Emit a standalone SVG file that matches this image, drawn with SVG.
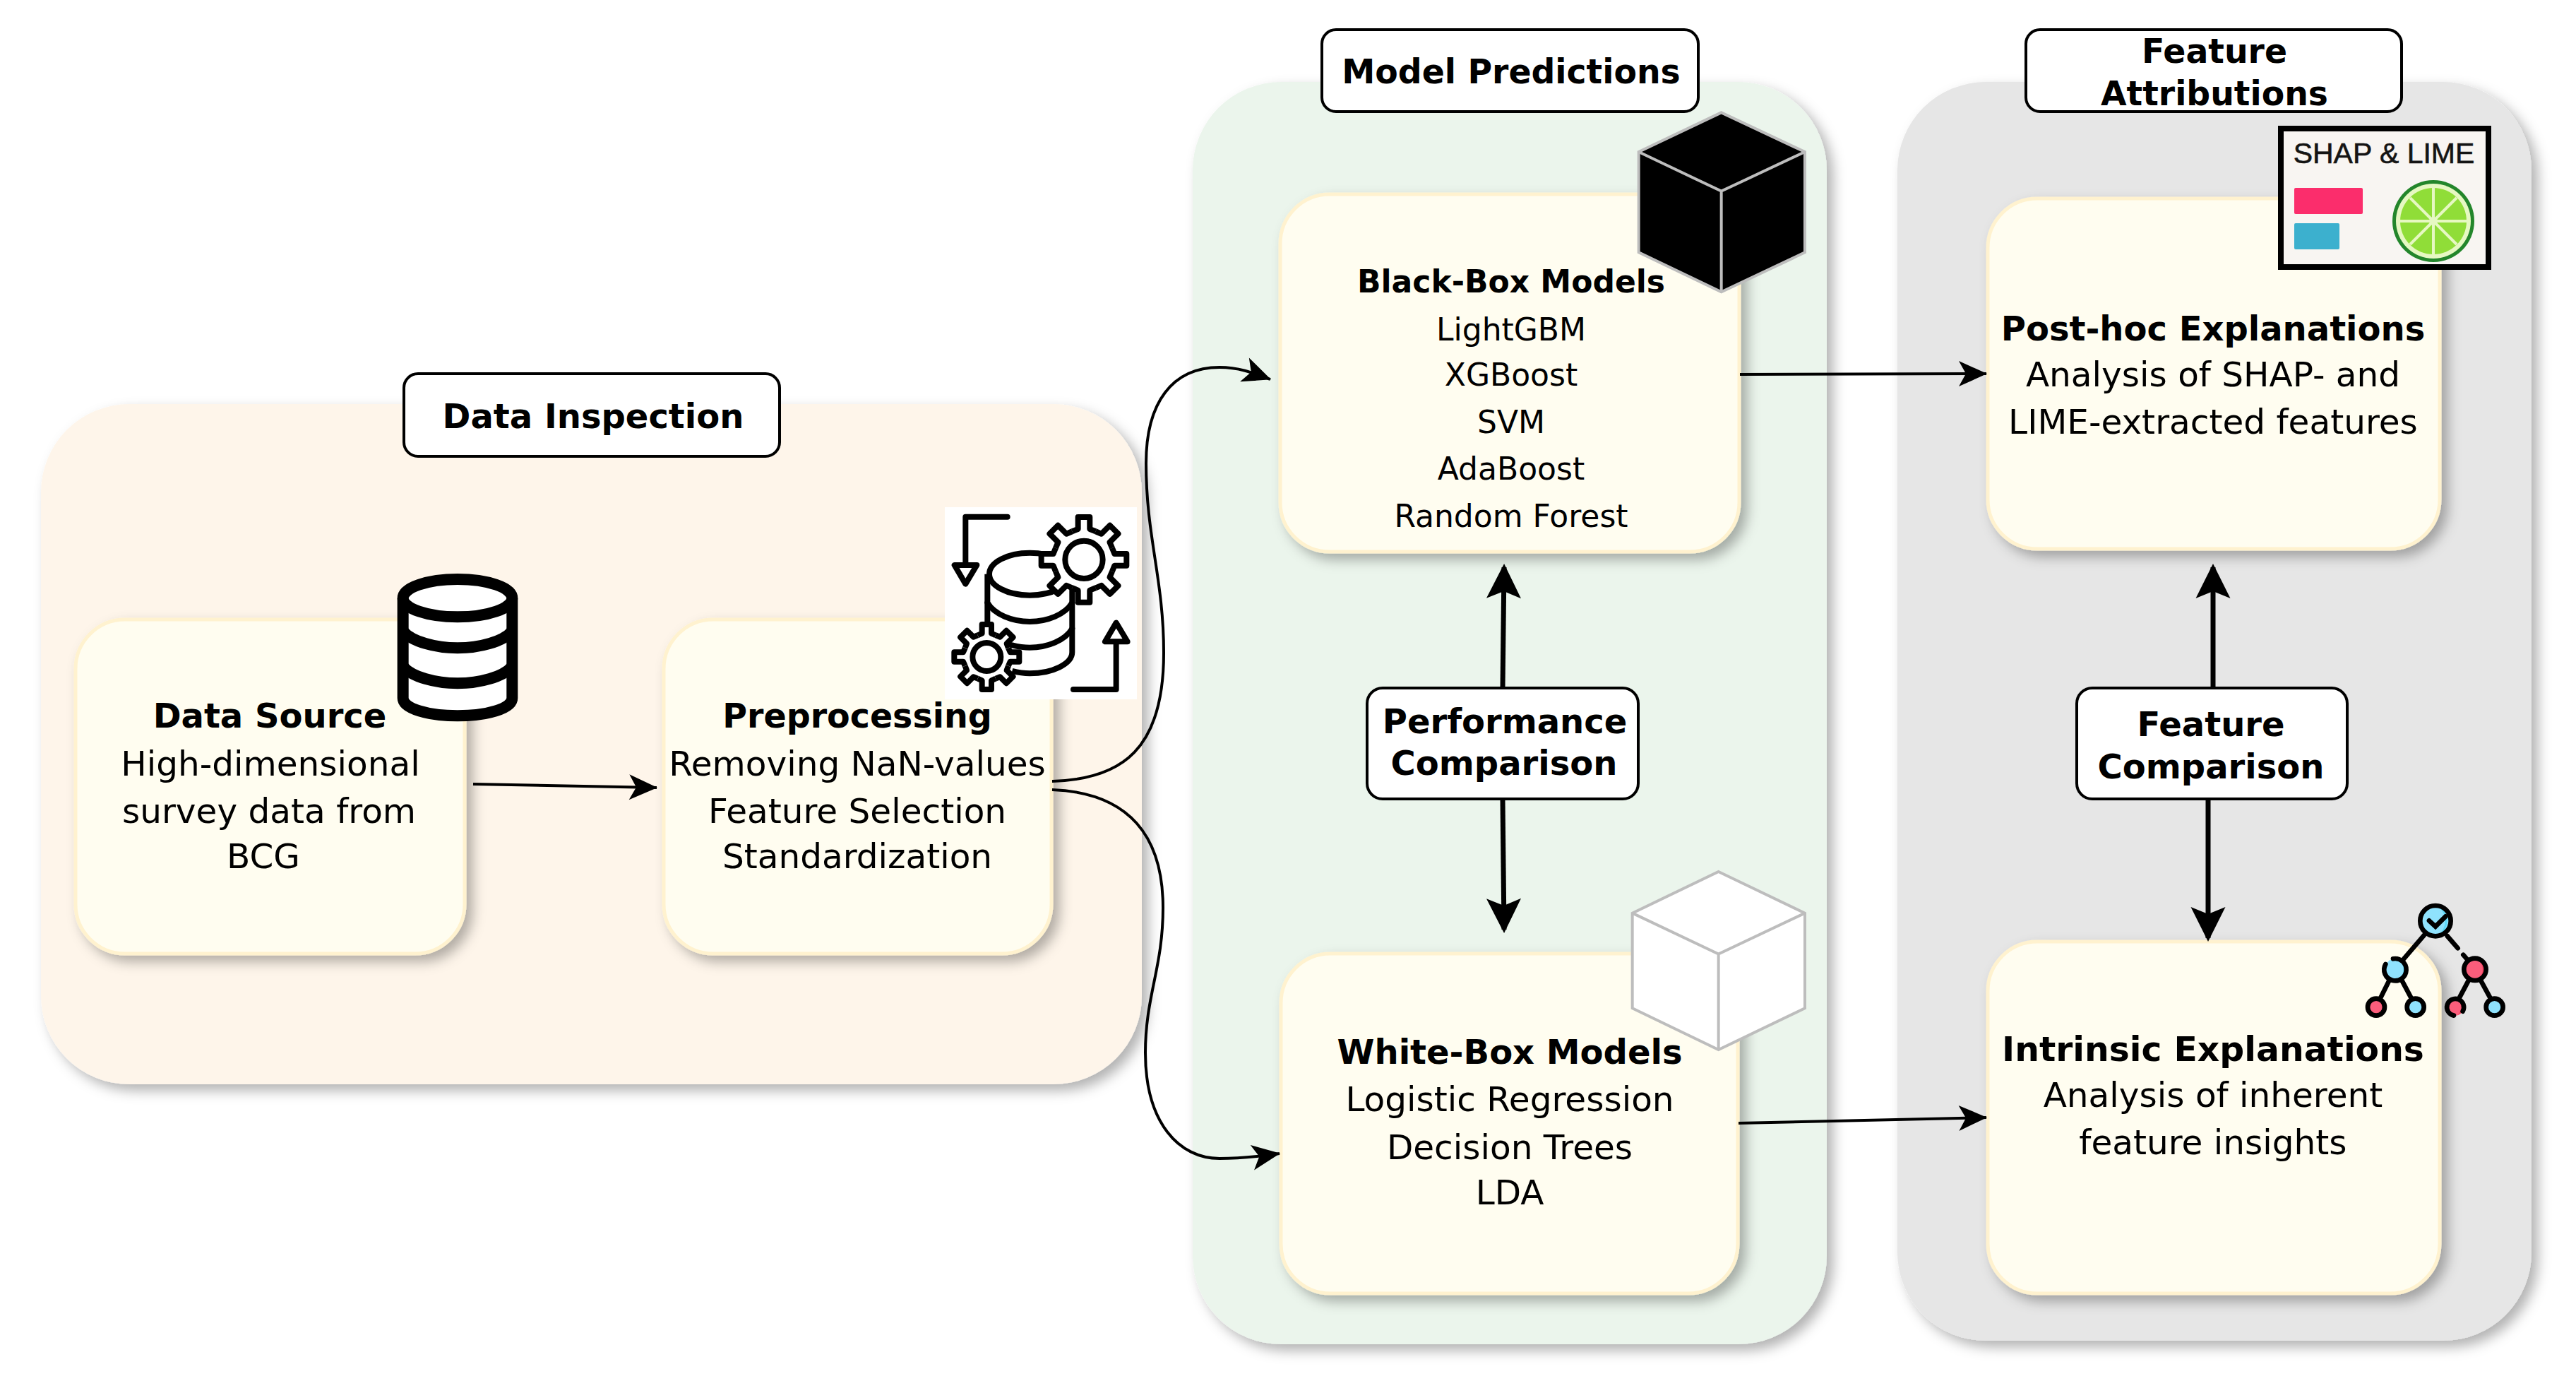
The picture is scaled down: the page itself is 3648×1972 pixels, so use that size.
<svg xmlns="http://www.w3.org/2000/svg" width="3648" height="1972" viewBox="0 0 3648 1972">
<style>
text{font-family:"DejaVu Sans",Verdana,sans-serif;text-anchor:middle;fill:#000}
.t{font-size:48.5px}.b{font-size:48px;font-weight:700}.s{font-size:44px}.sb{font-size:44px;font-weight:700}
.c{filter:url(#sh)}.n{fill:#fffdf0;stroke:#fff2cf;stroke-width:5;filter:url(#sh)}
.l{fill:#fff;stroke:#000;stroke-width:4}
.a{fill:none;stroke:#000;stroke-width:4;marker-end:url(#m)}
.h{fill:none;stroke:#000;stroke-width:7;marker-end:url(#mh)}
.i{fill:none;stroke:#000;stroke-width:24;stroke-linecap:round;stroke-linejoin:round}
.g{fill:#fff;stroke:#000;stroke-width:24;stroke-linejoin:round}
.cube{stroke:#bdbdbd;stroke-width:12;stroke-linejoin:miter}
.e{fill:none;stroke:#bdbdbd;stroke-width:12}
.tr{stroke:#000;stroke-width:20;stroke-linecap:round}
</style>
<defs>
<filter id="sh" x="-10%" y="-10%" width="125%" height="125%"><feDropShadow dx="9" dy="9" stdDeviation="9" flood-color="#000" flood-opacity=".3"/></filter>
<marker id="m" markerUnits="userSpaceOnUse" markerWidth="44" markerHeight="38" refX="39" refY="18" orient="auto" overflow="visible"><path d="M0 0L40 18L0 36L10 18Z" fill="#000"/></marker>
<marker id="mh" markerUnits="userSpaceOnUse" markerWidth="56" markerHeight="52" refX="44" refY="24.5" orient="auto" overflow="visible"><path d="M0 0L49 24.5L0 49L10 24.5Z" fill="#000"/></marker>
<path id="t1" d="M-50 -120L-25 -130L-25 -181L25 -181L25 -130L50 -120"/>
<path id="t2" d="M-38 -92L-20 -100L-20 -138L20 -138L20 -100L38 -92"/>
</defs>
<g id="container-data-inspection"><rect class="c" x="58" y="572" width="1559" height="963" rx="125" fill="#fef5ea"/></g>
<g id="container-model-predictions"><rect class="c" x="1689" y="116" width="898" height="1787" rx="125" fill="#ebf5ec"/></g>
<g id="container-feature-attributions"><rect class="c" x="2687" y="116" width="898" height="1782" rx="125" fill="#e6e6e6"/></g>

<g id="node-data-source"><rect class="n" x="107" y="877" width="551" height="473" rx="70"/>
<text class="b" x="382" y="1030">Data Source</text><text class="t" x="383" y="1098">High-dimensional</text><text class="t" x="381" y="1165">survey data from</text><text class="t" x="373" y="1229">BCG</text></g>
<g id="node-preprocessing"><rect class="n" x="940" y="877" width="549" height="473" rx="70"/>
<text class="b" x="1214" y="1030" style="font-size:47.5px">Preprocessing</text><text class="t" x="1214" y="1098">Removing NaN-values</text><text class="t" x="1214" y="1165">Feature Selection</text><text class="t" x="1214" y="1229">Standardization</text></g>
<g id="node-black-box"><rect class="n" x="1813" y="275" width="650" height="506" rx="70"/>
<text class="sb" x="2140" y="414">Black-Box Models</text><text class="s" x="2140" y="482">LightGBM</text><text class="s" x="2140" y="546">XGBoost</text><text class="s" x="2140" y="613">SVM</text><text class="s" x="2140" y="679">AdaBoost</text><text class="s" x="2140" y="746">Random Forest</text></g>
<g id="node-white-box"><rect class="n" x="1814" y="1350" width="647" height="481" rx="70"/>
<text class="b" x="2138" y="1506">White-Box Models</text><text class="t" x="2138" y="1573">Logistic Regression</text><text class="t" x="2138" y="1641">Decision Trees</text><text class="t" x="2138" y="1705">LDA</text></g>
<g id="node-post-hoc"><rect class="n" x="2815" y="281" width="640" height="496" rx="70"/>
<text class="b" x="3134" y="482">Post-hoc Explanations</text><text class="t" x="3134" y="547">Analysis of SHAP- and</text><text class="t" x="3134" y="614">LIME-extracted features</text></g>
<g id="node-intrinsic"><rect class="n" x="2815" y="1333" width="640" height="498" rx="70"/>
<text class="b" x="3134" y="1502" style="font-size:48.8px">Intrinsic Explanations</text><text class="t" x="3134" y="1567">Analysis of inherent</text><text class="t" x="3134" y="1634">feature insights</text></g>

<g id="connectors">
<path class="a" d="M670 1110L930 1115"/>
<path class="a" d="M1490 1106C1590 1103 1648 1060 1648 924C1648 820 1623 760 1623 656C1623 570 1660 520 1727 520C1755 520 1775 528 1799 537"/>
<path class="a" d="M1490 1118C1600 1122 1647 1185 1647 1285C1647 1370 1622 1410 1622 1490C1622 1590 1670 1640 1727 1640C1760 1640 1785 1637 1812 1633"/>
<path class="a" d="M2464 530L2813 529"/>
<path class="a" d="M2462 1590L2813 1582"/>
<path class="h" d="M2128 973L2130 803"/>
<path class="h" d="M2128 1133L2130 1316"/>
<path class="h" d="M3134 973L3134 803"/>
<path class="h" d="M3127 1133L3127 1328"/>
</g>

<g id="icon-database" transform="translate(520 780) scale(.3333)">
<path d="M152 200V625C152 670 260 700 384 700C508 700 616 670 616 625V200" fill="#fff" stroke="#000" stroke-width="48"/>
<ellipse cx="384" cy="200" rx="232" ry="80" fill="#fff" stroke="#000" stroke-width="48"/>
<path d="M152 340C190 385 290 412 384 412C478 412 578 385 616 340M152 490C190 535 290 562 384 562C478 562 578 535 616 490" fill="none" stroke="#000" stroke-width="48"/>
</g>

<g id="icon-preprocessing" transform="translate(1300 680) scale(.3333)">
<rect x="114" y="114" width="816" height="816" fill="#fff"/>
<path class="i" d="M380 155H202V350M155 360H250L202 440Z"/>
<path class="i" d="M660 888H842V690M795 685H890L842 605Z"/>
<path class="g" d="M295 398V730H400M655 398V730C655 780 570 820 475 820C440 820 420 815 400 810"/>
<ellipse class="g" cx="475" cy="398" rx="172" ry="90"/>
<path class="i" d="M295 520C325 570 400 600 475 600C550 600 625 570 655 520M655 630C625 680 550 710 475 710C440 710 420 705 400 700"/>
<g transform="translate(705 337)"><circle r="135" fill="#fff"/><g class="g"><use href="#t1"/><use href="#t1" transform="rotate(45)"/><use href="#t1" transform="rotate(90)"/><use href="#t1" transform="rotate(135)"/><use href="#t1" transform="rotate(180)"/><use href="#t1" transform="rotate(225)"/><use href="#t1" transform="rotate(270)"/><use href="#t1" transform="rotate(315)"/></g><circle r="80" class="g"/></g>
<g transform="translate(292 750)"><circle r="100" fill="#fff"/><g class="g"><use href="#t2"/><use href="#t2" transform="rotate(45)"/><use href="#t2" transform="rotate(90)"/><use href="#t2" transform="rotate(135)"/><use href="#t2" transform="rotate(180)"/><use href="#t2" transform="rotate(225)"/><use href="#t2" transform="rotate(270)"/><use href="#t2" transform="rotate(315)"/></g><circle r="60" class="g"/></g>
</g>

<g id="icon-black-cube" transform="translate(2280 130) scale(.3333)">
<path class="cube" d="M473 88L828 255V682L473 850L122 682V255Z" fill="#000"/><path class="e" d="M122 255L473 422L828 255M473 422V850"/>
</g>
<g id="icon-white-cube" transform="translate(2280 1210) scale(.3333)">
<path class="cube" d="M461 72L828 248V652L461 828L95 652V248Z" fill="#fff"/><path class="e" d="M95 248L461 422L828 248M461 422V828"/>
</g>

<g id="icon-shap-lime">
<rect x="3230" y="182" width="294" height="196" fill="#f8f5f2" stroke="#000" stroke-width="8"/>
<text x="3376" y="231" style="font-family:'Liberation Sans',Arial,sans-serif;font-size:41px;fill:#141414;stroke:#141414;stroke-width:.6">SHAP &amp; LIME</text>
<rect x="3249" y="266" width="97" height="37" rx="2" fill="#fb2d6c"/>
<rect x="3249" y="316" width="64" height="37" rx="2" fill="#3cb0ce"/>
<g transform="translate(3446 313)">
<circle r="58" fill="#23862b"/><circle r="53" fill="#e6f8c2"/><circle r="47" fill="#90dd38"/>
<path d="M-47 0H47M0 -47V47M-33 -33L33 33M-33 33L33 -33" stroke="#e6f8c2" stroke-width="4"/><circle r="6" fill="#e6f8c2"/>
</g>
</g>

<g id="icon-tree" transform="translate(3320 1260) scale(.3333)">
<path class="tr" d="M340 190L250 295M437 195L482 247M505 275L525 298M190 385L155 455M245 385L282 455M527 385L490 455M580 385L618 455" fill="none"/>
<circle cx="387" cy="131" r="65" fill="#8fe2fd"/><path d="M405 75A65 65 0 0 1 405 187A80 80 0 0 0 405 75Z" fill="#5cd8f8"/><circle cx="387" cy="131" r="65" fill="none" stroke="#000" stroke-width="20"/>
<path class="tr" fill="none" d="M360 130L387 155L430 112"/>
<circle cx="219" cy="337" r="47" fill="#8fe2fd"/><path d="M232 293A47 47 0 0 1 232 381A60 60 0 0 0 232 293Z" fill="#5cd8f8"/><path d="M207 292A47 47 0 1 1 175 315" fill="none" stroke="#000" stroke-width="20" stroke-linecap="round"/>
<circle cx="555" cy="337" r="47" fill="#fb5d7b"/><path d="M568 293A47 47 0 0 1 568 381A60 60 0 0 0 568 293Z" fill="#f0435f"/><circle cx="555" cy="337" r="47" fill="none" stroke="#000" stroke-width="20"/>
<circle cx="135" cy="497" r="36" fill="#fb5d7b"/><path d="M145 463A36 36 0 0 1 145 531A46 46 0 0 0 145 463Z" fill="#f0435f"/><circle cx="135" cy="497" r="36" fill="none" stroke="#000" stroke-width="20"/>
<circle cx="302" cy="497" r="36" fill="#8fe2fd"/><path d="M312 463A36 36 0 0 1 312 531A46 46 0 0 0 312 463Z" fill="#5cd8f8"/><circle cx="302" cy="497" r="36" fill="none" stroke="#000" stroke-width="20"/>
<circle cx="471" cy="497" r="36" fill="#fb5d7b"/><path d="M481 463A36 36 0 0 1 481 531A46 46 0 0 0 481 463Z" fill="#f0435f"/><path d="M465 533A36 36 0 1 1 503 515" fill="none" stroke="#000" stroke-width="20" stroke-linecap="round"/>
<circle cx="638" cy="497" r="36" fill="#8fe2fd"/><path d="M648 463A36 36 0 0 1 648 531A46 46 0 0 0 648 463Z" fill="#5cd8f8"/><circle cx="638" cy="497" r="36" fill="none" stroke="#000" stroke-width="20"/>
</g>

<g id="label-data-inspection"><rect class="l" x="572" y="529" width="532" height="117" rx="20"/><text class="b" x="840" y="606">Data Inspection</text></g>
<g id="label-model-predictions"><rect class="l" x="1872" y="42" width="533" height="116" rx="20"/><text class="b" x="2140" y="118" style="font-size:47.3px">Model Predictions</text></g>
<g id="label-feature-attributions"><rect class="l" x="2869" y="42" width="532" height="116" rx="20"/><text class="b" x="3136" y="89" style="font-size:47.3px">Feature</text><text class="b" x="3136" y="149" style="font-size:47.3px">Attributions</text></g>
<g id="label-performance"><rect class="l" x="1936" y="974" width="384" height="157" rx="22"/><text class="b" x="2131" y="1038">Performance</text><text class="b" x="2130" y="1097">Comparison</text></g>
<g id="label-feature-comparison"><rect class="l" x="2941" y="974" width="383" height="157" rx="22"/><text class="b" x="3131" y="1042">Feature</text><text class="b" x="3131" y="1102">Comparison</text></g>
</svg>
